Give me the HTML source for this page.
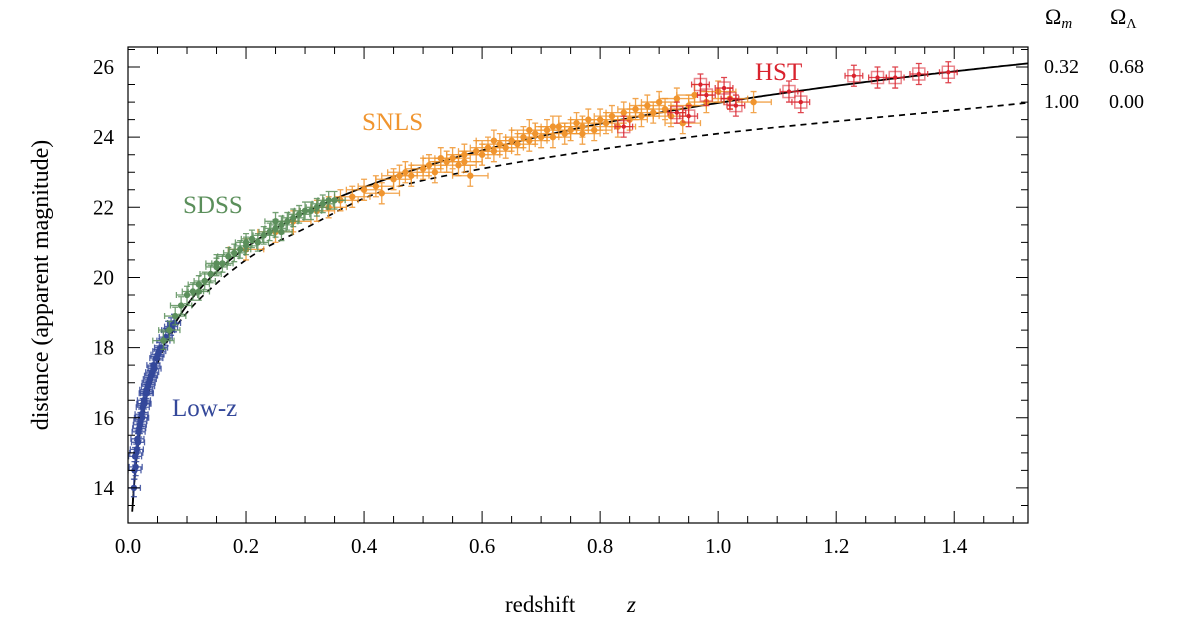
<!DOCTYPE html>
<html><head><meta charset="utf-8">
<style>
html,body{margin:0;padding:0;background:#fff;}
svg{display:block;font-family:"Liberation Serif",serif;}
</style></head>
<body>
<svg id="chart" width="1178" height="632" viewBox="0 0 1178 632" xmlns="http://www.w3.org/2000/svg"></svg>
<script>
const xTicks=[0.0,0.2,0.4,0.6,0.8,1.0,1.2,1.4];
const xTickLabels=["0.0","0.2","0.4","0.6","0.8","1.0","1.2","1.4"];
const yTicks=[14,16,18,20,22,24,26];
const yTickLabels=["14","16","18","20","22","24","26"];
const modelOm=[0.32,1.00];
const modelOL=[0.68,0.00];
const dashedZ=[0.008,0.01,0.02,0.05,0.1,0.2,0.3,0.43,0.6,0.8,1.0,1.2,1.4,1.525];
const dashedM=[13.55,14.05,15.55,17.55,19.0,20.5,21.4,22.45,23.1,23.65,24.1,24.45,24.77,24.98];
const lowZz=[0.010,0.011,0.012,0.013,0.014,0.015,0.016,0.017,0.018,0.019,0.020,0.021,0.022,0.023,0.024,0.025,0.026,0.027,0.028,0.030,0.031,0.032,0.034,0.035,0.037,0.039,0.041,0.043,0.045,0.048,0.050,0.053,0.056,0.060,0.064,0.068,0.073,0.078];
const lowZm=[14.0,14.5,14.9,14.6,15.0,15.1,15.4,15.3,15.6,15.7,15.8,15.9,16.0,16.1,16.0,16.3,16.4,16.5,16.4,16.7,16.8,16.7,16.9,17.0,17.1,17.2,17.3,17.5,17.4,17.7,17.8,17.9,18.0,18.2,18.3,18.5,18.6,18.7];
const sdssZ=[0.06,0.07,0.08,0.09,0.10,0.11,0.12,0.12,0.13,0.14,0.15,0.15,0.16,0.17,0.18,0.19,0.20,0.20,0.21,0.22,0.23,0.24,0.25,0.25,0.26,0.26,0.27,0.28,0.29,0.30,0.31,0.32,0.33,0.34,0.35];
const sdssM=[18.2,18.5,18.9,19.2,19.5,19.6,19.8,19.6,19.9,20.1,20.3,20.4,20.4,20.6,20.7,20.8,20.9,21.0,21.1,21.0,21.2,21.3,21.4,21.6,21.5,21.3,21.6,21.7,21.8,21.9,21.9,22.0,22.1,22.2,22.2];
const snlsZ=[0.20,0.25,0.28,0.32,0.34,0.36,0.38,0.40,0.42,0.43,0.45,0.46,0.48,0.50,0.51,0.52,0.54,0.55,0.56,0.57,0.58,0.59,0.60,0.61,0.62,0.63,0.64,0.65,0.66,0.67,0.68,0.69,0.70,0.71,0.72,0.73,0.74,0.75,0.76,0.77,0.78,0.79,0.80,0.81,0.82,0.83,0.84,0.85,0.86,0.87,0.88,0.89,0.90,0.91,0.92,0.93,0.94,0.95,0.96,0.98,1.00,1.02,1.06,0.47,0.53,0.57,0.62,0.68,0.72,0.77];
const snlsM=[20.8,21.3,21.6,21.9,22.0,22.2,22.3,22.5,22.6,22.4,22.8,22.9,22.9,23.1,23.2,23.0,23.3,23.4,23.2,23.5,22.9,23.6,23.5,23.7,23.6,23.8,23.7,23.9,23.8,24.0,23.9,24.1,24.0,24.2,24.0,24.3,24.1,24.2,24.4,24.3,24.5,24.2,24.5,24.4,24.6,24.3,24.7,24.5,24.8,24.6,24.9,24.7,25.0,24.8,24.6,25.1,24.4,24.9,25.2,25.0,25.3,25.1,25.0,23.0,23.4,23.3,23.9,24.2,24.3,24.1];
const hstZ=[0.84,0.93,0.95,0.97,0.98,1.01,1.02,1.03,1.12,1.14,1.23,1.27,1.30,1.34,1.39];
const hstM=[24.3,24.7,24.6,25.5,25.2,25.4,25.1,24.9,25.3,25.0,25.75,25.7,25.7,25.8,25.85];

const svg=document.getElementById('chart');
const NS="http://www.w3.org/2000/svg";
const L=128,R=1028,T=47,B=523;
const xMin=0,xMax=1.525,yMin=13.0,yMax=26.57;
function sx(v){return L+(v-xMin)/(xMax-xMin)*(R-L);}
function sy(v){return B-(v-yMin)/(yMax-yMin)*(B-T);}
function mk(tag,attrs,parent){const e=document.createElementNS(NS,tag);for(const k in attrs)e.setAttribute(k,attrs[k]);(parent||svg).appendChild(e);return e;}

const clip=mk('clipPath',{id:'pc'});mk('rect',{x:L,y:T,width:R-L,height:B-T},clip);

function dl(z,om,ol){const ok=1-om-ol;let n=200,s=0;for(let i=0;i<=n;i++){const zz=z*i/n;const E=Math.sqrt(om*Math.pow(1+zz,3)+ok*Math.pow(1+zz,2)+ol);const w=(i==0||i==n)?1:(i%2?4:2);s+=w/E;}s*=z/n/3;return (1+z)*s;}
const C=24.06;
(function(){let pts=dashedZ.map((z,i)=>[sx(z),sy(dashedM[i])]);let d="M"+pts[0][0]+","+pts[0][1];
for(let i=0;i<pts.length-1;i++){const p0=pts[Math.max(0,i-1)],p1=pts[i],p2=pts[i+1],p3=pts[Math.min(pts.length-1,i+2)];
d+=`C${p1[0]+(p2[0]-p0[0])/6},${p1[1]+(p2[1]-p0[1])/6} ${p2[0]-(p3[0]-p1[0])/6},${p2[1]-(p3[1]-p1[1])/6} ${p2[0]},${p2[1]}`;}
const p=mk('path',{d:d,fill:'none',stroke:'#000','stroke-width':1.7,'stroke-dasharray':'6,5','clip-path':'url(#pc)'});

})();
(function(){let d="";for(let i=1;i<=300;i++){const z=0.002+(xMax-0.002)*i/300;const m=C+5*Math.log10(dl(z,modelOm[0],modelOL[0]));d+=(i==1?"M":"L")+sx(z).toFixed(1)+","+sy(m).toFixed(1);}
const p=mk('path',{d:d,fill:'none',stroke:'#000','stroke-width':1.8,'clip-path':'url(#pc)'});

})();

function series(zs,ms,color,name,xe,ye,box,r){const g=mk('g',{'clip-path':'url(#pc)'});


for(let i=0;i<zs.length;i++){const x=sx(zs[i]),y=sy(ms[i]);const dx=xe*(R-L)/(xMax-xMin),dy=ye*(B-T)/(yMax-yMin);
mk('path',{d:`M${x-dx},${y}H${x+dx}M${x},${y-dy}V${y+dy}M${x-dx},${y-3}v6M${x+dx},${y-3}v6M${x-3},${y-dy}h6M${x-3},${y+dy}h6`,stroke:color,'stroke-width':1.3,'stroke-opacity':0.85,fill:'none'},g);
if(box)mk('rect',{x:x-6,y:y-6,width:12,height:12,fill:'none',stroke:color,'stroke-opacity':0.55,'stroke-width':1.5},g);
const c=mk('circle',{cx:x,cy:y,r:r,fill:color},g);

}}
series(lowZz,lowZm,'#34489a','low-z-series',0.011,0.25,false,3.2);
series(snlsZ,snlsM,'#f0952f','snls-series',0.03,0.3,false,3.2);
series(sdssZ,sdssM,'#5b8f5b','sdss-series',0.018,0.25,false,3.2);
series(hstZ,hstM,'#d9232e','hst-series',0.015,0.3,true,2.2);

const fr=mk('rect',{x:L,y:T,width:R-L,height:B-T,fill:'none',stroke:'#000','stroke-width':1.2});


let td="";
for(let v=0;v<=xMax+1e-9;v+=0.05){const x=sx(v);const major=Math.abs(v/0.2-Math.round(v/0.2))<1e-6;const len=major?12:7;td+=`M${x},${B}v${-len}M${x},${T}v${len}`;}
for(let v=13.5;v<=yMax;v+=0.5){const y=sy(v);const major=Math.abs(v/2-Math.round(v/2))<1e-6;const len=major?12:7;td+=`M${L},${y}h${len}M${R},${y}h${-len}`;}
mk('path',{d:td,stroke:'#000','stroke-width':1,fill:'none'});
function txt(s,x,y,attrs,name){const t=mk('text',Object.assign({x:x,y:y},attrs));t.textContent=s;return t;}
xTicks.forEach((v,i)=>txt(xTickLabels[i],sx(v),553,{'font-size':21,'text-anchor':'middle'},'x-tick-label'));
yTicks.forEach((v,i)=>txt(yTickLabels[i],114,sy(v)+7,{'font-size':21,'text-anchor':'end'},'y-tick-label'));
txt('redshift',505,612,{'font-size':23},'x-axis-title');
txt('z',627,612,{'font-size':23,'font-style':'italic'},'x-axis-title-symbol');
txt('distance (apparent magnitude)',48,285,{'font-size':24,'text-anchor':'middle',transform:'rotate(-90 48 285)'},'y-axis-title');
txt('SNLS',362,130,{'font-size':25,fill:'#f0952f'},'snls-label');
txt('SDSS',183,213,{'font-size':25,fill:'#5b8f5b'},'sdss-label');
txt('Low-z',172,416,{'font-size':25,fill:'#34489a'},'low-z-label');
txt('HST',755,80,{'font-size':25,fill:'#d9232e'},'hst-label');
const h1=txt('Ω',1045,24,{'font-size':22},'legend-header-omega-m');
const s1=mk('tspan',{'font-size':15,'font-style':'italic',dy:4},h1);s1.textContent='m';
const h2=txt('Ω',1110,24,{'font-size':22},'legend-header-omega-lambda');
const s2=mk('tspan',{'font-size':14,dy:4},h2);s2.textContent='Λ';
txt('0.32',1044,73,{'font-size':20},'legend-om-solid');
txt('0.68',1109,73,{'font-size':20},'legend-ol-solid');
txt('1.00',1044,108,{'font-size':20},'legend-om-dashed');
txt('0.00',1109,108,{'font-size':20},'legend-ol-dashed');
</script>
</body></html>
